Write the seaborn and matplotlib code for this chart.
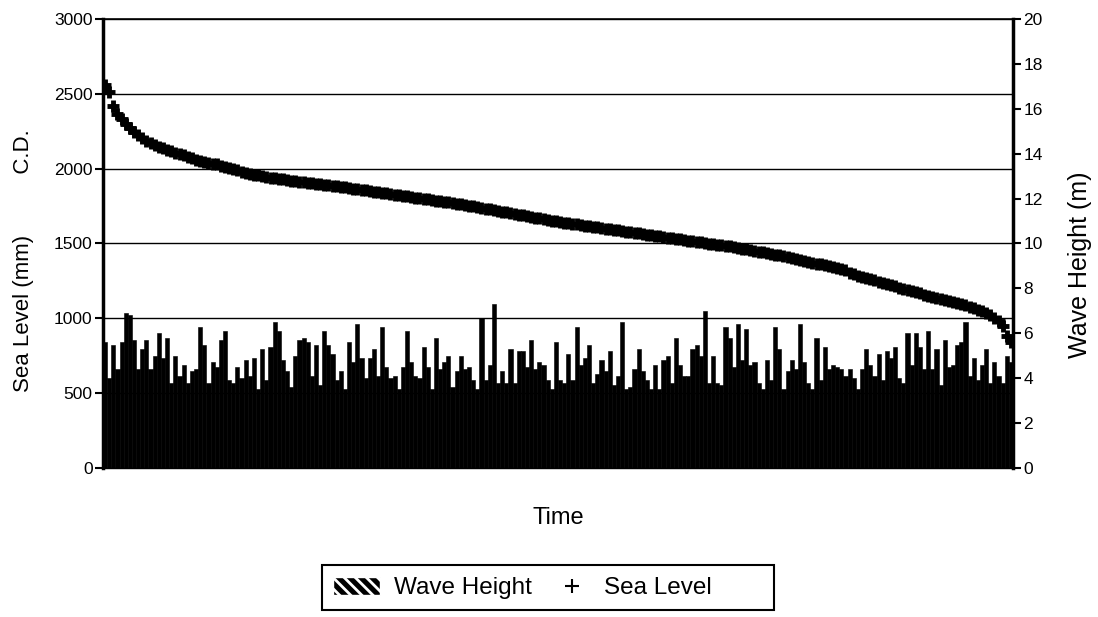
import matplotlib
matplotlib.use("Agg")
import matplotlib.pyplot as plt
from matplotlib.patches import Patch, Rectangle
from matplotlib.lines import Line2D
from matplotlib.legend_handler import HandlerLine2D
import seaborn as sns
import pandas as pd
import numpy as np

# Datos (altura de ola en m, nivel del mar en mm C.D.)
wave_height = [
    5.6, 4.0, 5.5, 4.4, 5.6, 6.9, 6.8, 5.7, 4.4, 5.3, 5.7, 4.4, 5.0, 6.0, 4.9, 5.8,
    3.8, 5.0, 4.1, 4.6, 3.8, 4.3, 4.4, 6.3, 5.5, 3.8, 4.7, 4.5, 5.7, 6.1, 3.9,
    3.8, 4.5, 4.0, 4.8, 4.1, 4.9, 3.5, 5.3, 3.9, 5.4, 6.5, 6.1, 4.8, 4.3, 3.6, 5.0,
    5.7, 5.8, 5.6, 4.1, 5.5, 3.7, 6.1, 5.5, 5.1, 3.9, 4.3, 3.5, 5.6, 4.7, 6.4, 4.9, 4.0,
    4.9, 5.3, 4.1, 6.3, 4.5, 4.0, 4.1, 3.5, 4.5, 6.1, 4.7, 4.1, 4.0, 5.4, 4.5, 3.5,
    5.8, 4.4, 4.7, 5.0, 3.6, 4.3, 5.0, 4.4, 4.5, 3.9, 3.5, 6.7, 3.9, 4.6, 7.3, 3.8,
    4.3, 3.8, 5.3, 3.8, 5.2,
    5.2, 4.5, 5.7, 4.4, 4.7, 4.6, 3.9, 3.5, 5.6, 3.9, 3.8, 5.1, 3.9, 6.3, 4.6, 4.9,
    5.5, 3.8, 4.2, 4.8, 4.3, 5.2, 3.7, 4.1, 6.5, 3.5, 3.6, 4.4, 5.3, 4.3, 3.9, 3.5,
    4.6, 3.5, 4.8, 5.0, 3.8, 5.8, 4.6, 4.1,
    4.1, 5.3, 5.5, 5.0, 7.0, 3.8, 5.0, 3.8, 3.7, 6.3, 5.8, 4.5, 6.4, 4.8, 6.2, 4.6,
    4.7, 3.8, 3.5, 4.8, 3.9, 6.3, 5.3, 3.5, 4.3, 4.8, 4.4, 6.4, 4.7, 3.8, 3.5, 5.8,
    3.9, 5.4, 4.4, 4.6, 4.5, 4.4, 4.1,
    4.4, 4.0, 3.5, 4.4, 5.3, 4.6, 4.1, 5.1, 3.9, 5.2, 4.9, 5.4, 4.0, 3.8, 6.0, 4.6,
    6.0, 5.4, 4.4, 6.1, 4.4, 5.3, 3.7, 5.7, 4.5, 4.6, 5.5, 5.6, 6.5, 4.1, 4.9, 3.9,
    4.6, 5.3, 3.8, 4.7, 4.1, 3.8, 5.0, 4.7,
]

sea_level = [
    2560, 2510, 2420, 2365, 2330, 2300, 2272, 2248, 2226, 2206,
    2186, 2172, 2160, 2148, 2136, 2125, 2115, 2105, 2096, 2088,
    2078, 2068, 2058, 2049, 2042, 2037, 2033, 2028, 2020, 2012,
    2004, 1996, 1988, 1980, 1973, 1967, 1961, 1955, 1949, 1944,
    1940, 1936, 1932, 1928, 1924, 1920, 1916, 1912, 1908, 1905,
    1902, 1899, 1896, 1893, 1890, 1887, 1883, 1879, 1875, 1871,
    1867, 1863, 1859, 1855, 1851, 1847, 1843, 1839, 1835, 1831,
    1827, 1823, 1819, 1815, 1811, 1807, 1803, 1799, 1795, 1791,
    1787, 1783, 1779, 1775, 1771, 1767, 1763, 1758, 1753, 1748,
    1743, 1738, 1733, 1728, 1723, 1718, 1713, 1708, 1703, 1698,
    1693, 1688, 1683, 1678, 1673, 1668, 1663, 1658, 1653, 1648,
    1643, 1639, 1635, 1631, 1627, 1623, 1619, 1615, 1611, 1607,
    1603, 1599, 1595, 1591, 1587, 1583, 1579, 1575, 1571, 1567,
    1563, 1559, 1555, 1551, 1547, 1543, 1539, 1535, 1531, 1527,
    1523, 1519, 1515, 1511, 1507, 1503, 1499, 1495, 1491, 1487,
    1486, 1481, 1476, 1471, 1466, 1461, 1456, 1451, 1446, 1441,
    1436, 1431, 1426, 1420, 1414, 1408, 1402, 1396, 1390, 1384,
    1378, 1372, 1366, 1360, 1354, 1348, 1342, 1336, 1330, 1323,
    1300, 1293, 1286, 1278, 1270, 1262, 1254, 1246, 1238, 1230,
    1222, 1214, 1206, 1198, 1190, 1182, 1174, 1166, 1158, 1150,
    1145, 1138, 1131, 1124, 1117, 1110, 1102, 1094, 1086, 1077,
    1068, 1058, 1047, 1035, 1020, 1003, 980, 950, 880, 845,
]

sea_ticks = [0, 500, 1000, 1500, 2000, 2500, 3000]
wave_ticks = [0, 2, 4, 6, 8, 10, 12, 14, 16, 18, 20]

df = pd.DataFrame({"t": np.arange(len(wave_height)),
                   "wave": wave_height,
                   "sea": sea_level})

sns.set_theme(style="white")
plt.rcParams["font.family"] = ["Liberation Sans", "DejaVu Sans"]
plt.rcParams["hatch.linewidth"] = 2.0

fig = plt.figure(figsize=(10.98, 6.17), dpi=100)
ax = fig.add_axes([0.0938, 0.2415, 0.8288, 0.7277])
ax2 = ax.twinx()

# Nivel del mar (eje izquierdo)
sns.scatterplot(data=df, x="t", y="sea", marker="+", color="black",
                s=85, linewidth=3.5, ax=ax, legend=False)

# Altura de ola (eje derecho)
sns.barplot(data=df, x="t", y="wave", color="black", width=1.0,
            saturation=1, edgecolor="black", linewidth=0.4, ax=ax2)

ax.set_xlim(-0.5, len(df) - 0.5)
ax.set_ylim(0, 3000)
ax2.set_ylim(0, 20)
ax.set_yticks(sea_ticks)
ax2.set_yticks(wave_ticks)
ax.set_xticks([])
ax2.set_xticks([])

ax.grid(axis="y", color="black", linewidth=1.0)
ax.set_axisbelow(True)

for s in ax.spines.values():
    s.set_color("black")
ax.spines["left"].set_linewidth(2.5)
ax.spines["top"].set_linewidth(1.2)
ax.spines["bottom"].set_linewidth(1.0)
ax.spines["right"].set_visible(False)
for name, s in ax2.spines.items():
    s.set_visible(name == "right")
ax2.spines["right"].set_color("black")
ax2.spines["right"].set_linewidth(2.5)

ax.tick_params(axis="y", left=True, direction="out", length=5.5, width=1.5,
               labelsize=12.5, colors="black", pad=2)
ax2.tick_params(axis="y", right=True, direction="out", length=5.5, width=1.5,
                labelsize=12.5, colors="black", pad=2)

ax.set_xlabel("Time", fontsize=17, color="black", labelpad=28)
ax.set_ylabel("Sea Level (mm)          C.D.", fontsize=16, color="black")
ax.yaxis.set_label_coords(-0.0758, 0.461)
ax2.set_ylabel("Wave Height (m)", fontsize=18, color="black")
ax2.yaxis.set_label_coords(1.0604, 0.452)

# Leyenda con marco dibujado aparte
fig.patches.append(Rectangle((322 / 1098, 1 - 610 / 617), 452 / 1098, 45 / 617,
                             transform=fig.transFigure, facecolor="white",
                             edgecolor="black", linewidth=1.5, zorder=0))
handles = [Patch(facecolor="black", edgecolor="white", hatch="\\\\\\"),
           Line2D([], [], marker="+", color="black", linestyle="none",
                  markersize=10, markeredgewidth=1.5)]
leg = fig.legend(handles, ["Wave Height", "Sea Level"], loc="center left",
                 bbox_to_anchor=(333 / 1098, 1 - 588 / 617), ncol=2,
                 frameon=False, fontsize=17.5, borderpad=0, borderaxespad=0,
                 handlelength=1.93, handleheight=0.8, handletextpad=0.58,
                 columnspacing=0.45,
                 handler_map={handles[1]: HandlerLine2D(numpoints=1, xpad=0.45)})
for t in leg.get_texts():
    t.set_color("black")

plt.savefig("out.png", dpi=100)
